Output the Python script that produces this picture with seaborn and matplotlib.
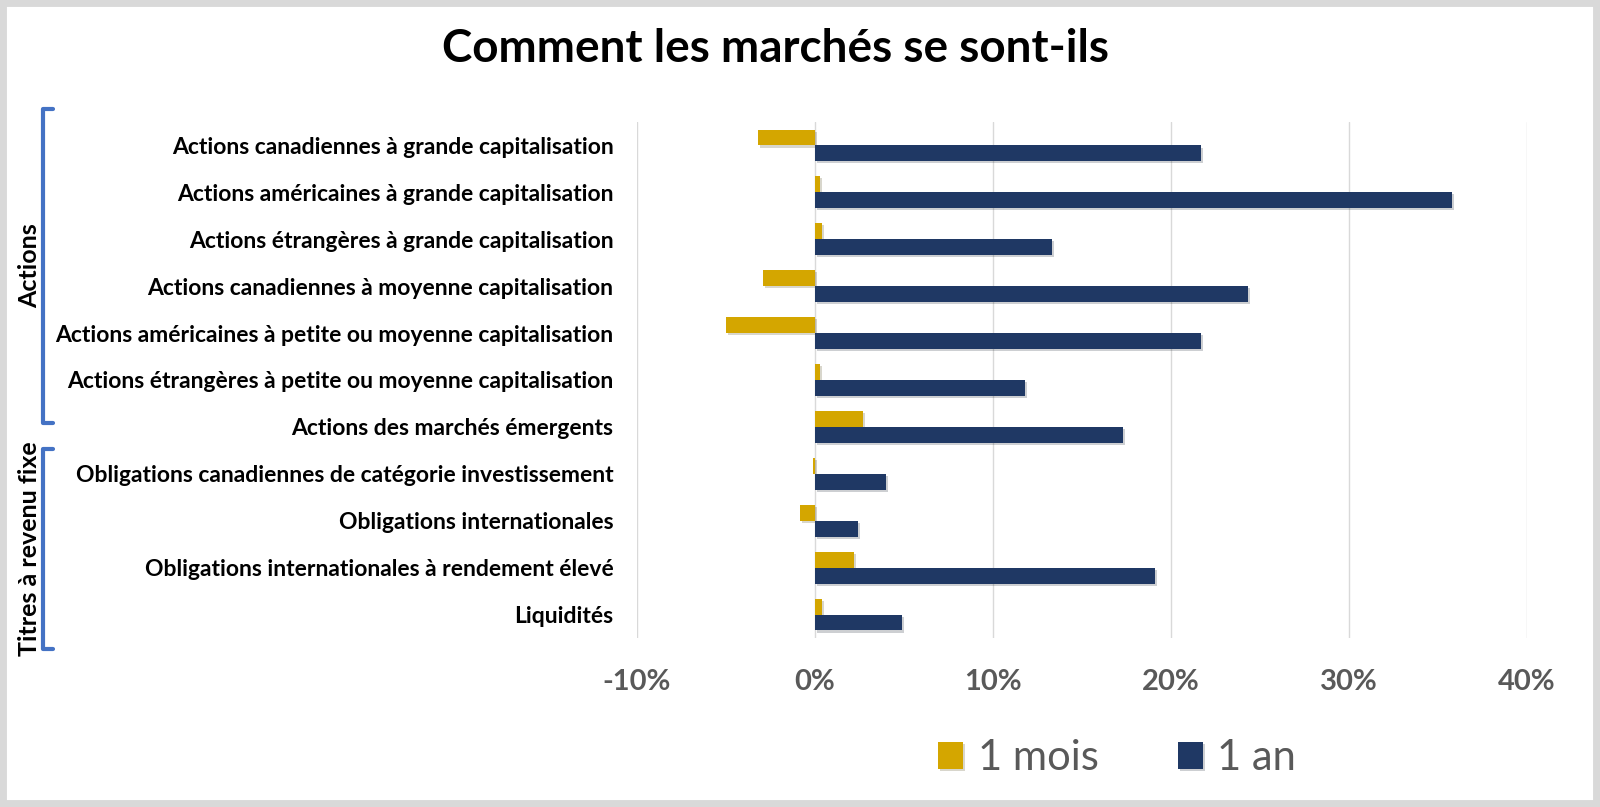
import numpy as np
import pandas as pd
import matplotlib
matplotlib.use("Agg")
import matplotlib.pyplot as plt
import matplotlib.patheffects as pe
from matplotlib.lines import Line2D
from matplotlib.patches import Rectangle
import seaborn as sns

# data
categories = [
    "Actions canadiennes à grande capitalisation",
    "Actions américaines à grande capitalisation",
    "Actions étrangères à grande capitalisation",
    "Actions canadiennes à moyenne capitalisation",
    "Actions américaines à petite ou moyenne capitalisation",
    "Actions étrangères à petite ou moyenne capitalisation",
    "Actions des marchés émergents",
    "Obligations canadiennes de catégorie investissement",
    "Obligations internationales",
    "Obligations internationales à rendement élevé",
    "Liquidités",
]
one_month = [-3.2, 0.3, 0.4, -2.9, -5.0, 0.3, 2.7, -0.1, -0.85, 2.2, 0.4]
one_year = [21.7, 35.8, 13.3, 24.3, 21.7, 11.8, 17.3, 4.0, 2.4, 19.1, 4.9]
series = ["1 mois", "1 an"]
xticks = [-10, 0, 10, 20, 30, 40]

df = pd.DataFrame({
    "cat": categories * 2,
    "val": one_month + one_year,
    "serie": [series[0]] * len(categories) + [series[1]] * len(categories),
})

sns.set_theme(style="white")
plt.rcParams['font.family'] = ['Lato', 'DejaVu Sans']

fig = plt.figure(figsize=(16, 8.07), dpi=100)
ax = fig.add_axes([637 / 1600, 1 - 638 / 807, 890 / 1600, 516 / 807])

sns.barplot(data=df, x="val", y="cat", hue="serie", orient="h",
            palette=["#d4a600", "#1f3864"], width=0.68, ax=ax,
            saturation=1, legend=True, linewidth=0, edgecolor="none")

# soft shadow under the bars, as in the original
for bar in ax.patches:
    bar.set_path_effects([pe.SimplePatchShadow(offset=(1.5, -1.5), alpha=0.2),
                          pe.Normal()])

ax.set_xlim(-10, 40)
ax.set_xticks(xticks)
ax.set_xticklabels([f"{t}%" for t in xticks], fontsize=21, fontweight="bold",
                   color="#595959")
ax.tick_params(axis="x", pad=22, length=0)
ax.tick_params(axis="y", pad=17, length=0)
for lab in ax.get_yticklabels():
    lab.set_fontsize(16.5)
    lab.set_fontweight("bold")
    lab.set_color("black")
ax.set_xlabel("")
ax.set_ylabel("")
ax.grid(axis="x", color="#d9d9d9", lw=1)
ax.set_axisbelow(True)
for s in ax.spines.values():
    s.set_visible(False)

leg = ax.legend(loc="center", bbox_to_anchor=(1117 / 1600, 1 - 758 / 807),
                bbox_transform=fig.transFigure, ncol=2, frameon=False,
                fontsize=30, handlelength=0.6, handleheight=0.6,
                handletextpad=0.35, columnspacing=1.9)
for t in leg.get_texts():
    t.set_color("#595959")
for h in leg.legend_handles:
    h.set_linewidth(0)

fig.text(775 / 1600, 1 - 49 / 807, "Comment les marchés se sont-ils",
         ha="center", va="center", fontsize=33, fontweight="bold",
         color="black")

# group brackets on the left
blue = "#4472c4"
def bracket(y0, y1, label):
    x = 43 / 1600
    xe = 53 / 1600
    fy0, fy1 = 1 - y0 / 807, 1 - y1 / 807
    fig.add_artist(Line2D([xe, x, x, xe], [fy0, fy0, fy1, fy1], color=blue,
                          lw=3, transform=fig.transFigure))
    fig.text(30 / 1600, (fy0 + fy1) / 2, label, rotation=90, ha="center",
             va="center", fontsize=18, fontweight="bold", color="black")

bracket(109, 423, "Actions")
bracket(449, 649, "Titres à revenu fixe")

# light grey frame
fig.add_artist(Rectangle((0, 0), 1, 1, transform=fig.transFigure, fill=False,
                         edgecolor="#d9d9d9", lw=10))

fig.savefig("out.png", dpi=100)
